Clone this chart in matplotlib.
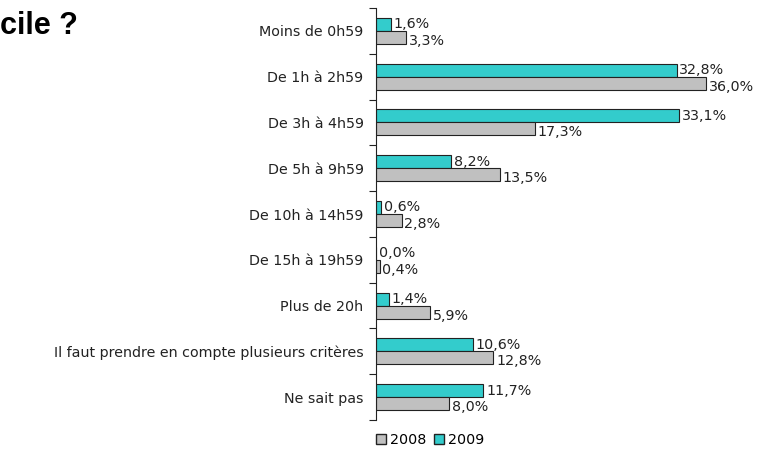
import numpy as np
import matplotlib
matplotlib.use('Agg')
import matplotlib.pyplot as plt
from matplotlib.patches import Patch

categories = ['Moins de 0h59', 'De 1h à 2h59', 'De 3h à 4h59', 'De 5h à 9h59',
              'De 10h à 14h59', 'De 15h à 19h59', 'Plus de 20h',
              'Il faut prendre en compte plusieurs critères', 'Ne sait pas']
vals_2009 = [1.6, 32.8, 33.1, 8.2, 0.6, 0.0, 1.4, 10.6, 11.7]
vals_2008 = [3.3, 36.0, 17.3, 13.5, 2.8, 0.4, 5.9, 12.8, 8.0]

teal = '#33CCCC'
grey = '#C0C0C0'

plt.rcParams['font.family'] = ['DejaVu Sans']

fig = plt.figure(figsize=(7.64, 4.49), dpi=100)
ax = fig.add_axes([376/764, 1 - 420/449, 1 - 376/764 - 0.004, 412/449])

y = np.arange(len(categories))
h = 0.285
ax.barh(y - h/2, vals_2009, height=h, color=teal, edgecolor='#222222', linewidth=0.8)
ax.barh(y + h/2, vals_2008, height=h, color=grey, edgecolor='#222222', linewidth=0.8)

def fmt(v):
    return ('%.1f%%' % v).replace('.', ',')

for yi, v in zip(y, vals_2009):
    ax.annotate(fmt(v), (v, yi - h/2), xytext=(2, 0), textcoords='offset points',
                va='center', ha='left', fontsize=10.3, color='#222222')
for yi, v in zip(y, vals_2008):
    ax.annotate(fmt(v), (v, yi + h/2), xytext=(2, -2.5), textcoords='offset points',
                va='center', ha='left', fontsize=10.3, color='#222222')

ax.set_xlim(0, 42)
ax.set_ylim(len(categories) - 0.5, -0.5)

ax.set_yticks(np.arange(len(categories) + 1) - 0.5)
ax.set_yticklabels([])
ax.set_yticks(y, minor=True)
ax.set_yticklabels(categories, minor=True, fontsize=10.3, color='#222222')
ax.tick_params(axis='y', which='minor', length=0, pad=9)
ax.tick_params(axis='y', which='major', length=5, width=0.8, color='#222222')
ax.set_xticks([])

for s in ['top', 'right', 'bottom']:
    ax.spines[s].set_visible(False)
ax.spines['left'].set_color('#222222')
ax.spines['left'].set_linewidth(0.8)

# title is cut off in the source image, only its end shows
fig.text(0.0, 1 - 26/449, 'cile ?', fontsize=22, fontweight='bold',
         family='Liberation Sans', va='center', ha='left')

handles = [Patch(facecolor=grey, edgecolor='#222222', label='2008'),
           Patch(facecolor=teal, edgecolor='#222222', label='2009')]
fig.legend(handles=handles, loc='center', bbox_to_anchor=(430/764, 1 - 440/449),
           ncol=2, frameon=False, fontsize=10.3, handlelength=0.7, handleheight=0.7,
           handletextpad=0.3, columnspacing=0.5)

fig.savefig('out.png', dpi=100)
